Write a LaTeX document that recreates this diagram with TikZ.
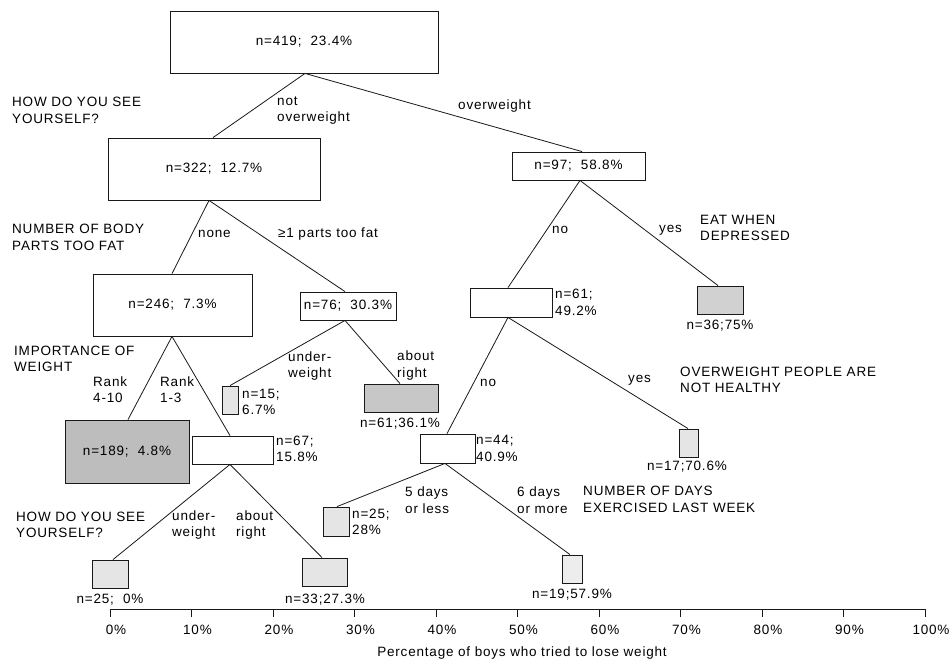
\documentclass[tikz,border=0pt]{standalone}
\usepackage{fontspec}
\setmainfont{Liberation Sans}[LetterSpace=6]
\newcommand\lbfont{\fontsize{13.5}{16.5}\selectfont}
\begin{document}
\begin{tikzpicture}[x=1pt,y=-1pt,
  every node/.style={font=\lbfont, text=black},
  box/.style={draw=black!90, line width=0.85pt, inner sep=0pt, anchor=center},
  shd/.style={fill=black!22},
  lshd/.style={fill=black!10},
  lbl/.style={inner sep=0pt, align=left, anchor=west},
  clbl/.style={inner sep=0pt, anchor=center},
  conn/.style={line width=0.8pt, draw=black!90},
  tick/.style={line width=0.8pt, draw=black!90}]
\useasboundingbox (0,0) rectangle (952,664);
\fill[white] (0,0) rectangle (952,664);
% boxes
\node[box, minimum width=268pt, minimum height=62pt] (root) at (304,42) {n=419;\ \ 23.4\%};
\node[box, minimum width=212pt, minimum height=62pt] (n322) at (214,169) {n=322;\ \ 12.7\%};
\node[box, minimum width=133pt, minimum height=28pt] (n97) at (578.5,166) {n=97;\ \ 58.8\%};
\node[box, minimum width=159pt, minimum height=62pt] (n246) at (172.5,305) {n=246;\ \ 7.3\%};
\node[box, minimum width=96pt, minimum height=28pt] (n76) at (348,306) {n=76;\ \ 30.3\%};
\node[box, shd, fill=black!26, minimum width=124pt, minimum height=63pt] (n189) at (127,451.5) {n=189;\ \ 4.8\%};
\node[box, minimum width=81pt, minimum height=28pt] (n67) at (232.5,450) {};
\node[box, lshd, minimum width=16pt, minimum height=28pt] (n15) at (230,400) {};
\node[box, shd, minimum width=74pt, minimum height=28pt] (n61b) at (401,398) {};
\node[box, minimum width=82pt, minimum height=29pt] (n61) at (511,302.5) {};
\node[box, shd, fill=black!18, minimum width=46pt, minimum height=28pt] (n36) at (720,300) {};
\node[box, minimum width=55pt, minimum height=29pt] (n44) at (447.5,448.5) {};
\node[box, lshd, minimum width=19pt, minimum height=28pt] (n17) at (688.5,443) {};
\node[box, lshd, minimum width=26pt, minimum height=29pt] (n25b) at (336,521.5) {};
\node[box, lshd, fill=black!7, minimum width=20pt, minimum height=28pt] (n19) at (572,569) {};
\node[box, lshd, minimum width=36pt, minimum height=28pt] (n25) at (110,574) {};
\node[box, lshd, minimum width=45pt, minimum height=28pt] (n33) at (324.5,572) {};
% connectors
\draw[conn] ([xshift=1pt]root.south) -- ([xshift=-1pt]n322.north);
\draw[conn] ([xshift=1pt]root.south) -- ([xshift=3.5pt]n97.north);
\draw[conn] ([xshift=-5pt]n322.south) -- ([xshift=-0.5pt]n246.north);
\draw[conn] ([xshift=-5pt]n322.south) -- ([xshift=-3pt]n76.north);
\draw[conn] ([xshift=-0.5pt]n246.south) -- ([xshift=1pt]n189.north);
\draw[conn] ([xshift=-0.5pt]n246.south) -- ([xshift=-2.5pt]n67.north);
\draw[conn] ([xshift=-3pt]n76.south) -- (n15.north);
\draw[conn] ([xshift=-3pt]n76.south) -- ([xshift=-1pt]n61b.north);
\draw[conn] ([xshift=1.5pt]n97.south) -- ([xshift=-3pt]n61.north);
\draw[conn] ([xshift=1.5pt]n97.south) -- ([xshift=-2pt]n36.north);
\draw[conn] ([xshift=-3pt]n61.south) -- ([xshift=-0.5pt]n44.north);
\draw[conn] ([xshift=-3pt]n61.south) -- ([xshift=-0.5pt]n17.north);
\draw[conn] ([xshift=-2.5pt]n44.south) -- ([xshift=1pt]n25b.north);
\draw[conn] ([xshift=-2.5pt]n44.south) -- ([xshift=-2pt]n19.north);
\draw[conn] ([xshift=-2.5pt]n67.south) -- ([xshift=3pt]n25.north);
\draw[conn] ([xshift=-2.5pt]n67.south) -- ([xshift=-2.5pt]n33.north);
% labels
\node[lbl] (q1) at (12,110.5) {HOW DO YOU SEE\\YOURSELF?};
\node[lbl] (l1) at (277,110.5) {not\\overweight};
\node[lbl] (l2) at (458,106) {overweight};
\node[lbl] (q2) at (12,237.5) {NUMBER OF BODY\\PARTS TOO FAT};
\node[lbl] (l3) at (198,234) {none};
\node[lbl] (l4) at (278,234) {≥1 parts too fat};
\node[lbl] (q3) at (14,359) {IMPORTANCE OF\\WEIGHT};
\node[lbl] (l5) at (93,389.5) {Rank\\4-10};
\node[lbl] (l6) at (160,389.5) {Rank\\1-3};
\node[lbl] (l7) at (288,366) {under-\\weight};
\node[lbl] (l8) at (397,365.5) {about\\right};
\node[lbl] (t15) at (242,402) {n=15;\\6.7\%};
\node[clbl] (t61b) at (400,424) {n=61;36.1\%};
\node[lbl] (t67) at (276,449) {n=67;\\15.8\%};
\node[lbl] (t61) at (555,302.5) {n=61;\\49.2\%};
\node[clbl] (t36) at (720,326) {n=36;75\%};
\node[lbl] (l9) at (552,230) {no};
\node[lbl] (l10) at (659,230) {yes};
\node[lbl] (q4) at (700,228) {EAT WHEN\\DEPRESSED};
\node[lbl] (l11) at (480,383) {no};
\node[lbl] (l12) at (628,380) {yes};
\node[lbl] (q5) at (680,380) {OVERWEIGHT PEOPLE ARE\\NOT HEALTHY};
\node[lbl] (t44) at (476,448.5) {n=44;\\40.9\%};
\node[clbl] (t17) at (687,467) {n=17;70.6\%};
\node[lbl] (l13) at (405,500) {5 days\\or less};
\node[lbl] (l14) at (517,500) {6 days\\or more};
\node[lbl] (q6) at (583,499.5) {NUMBER OF DAYS\\EXERCISED LAST WEEK};
\node[lbl] (t25b) at (352,522) {n=25;\\28\%};
\node[lbl] (q7) at (16,525) {HOW DO YOU SEE\\YOURSELF?};
\node[lbl] (l15) at (172,525) {under-\\weight};
\node[lbl] (l16) at (236,525) {about\\right};
\node[clbl] (t25) at (110,600) {n=25;\ \ 0\%};
\node[clbl] (t33) at (325,600) {n=33;27.3\%};
\node[clbl] (t19) at (572,595) {n=19;57.9\%};
% axis
\coordinate (ax0) at (110,609);
\coordinate (ax1) at (925,609);
\draw[tick] (ax0) -- (ax1);
\foreach \i in {0,...,10} {
  \coordinate (tk\i) at ({110+81.5*\i},609);
  \draw[tick] (tk\i) -- ++(0,8);
  \node[clbl] (tl\i) at ({116+81.5*\i},630) {\the\numexpr\i*10\relax\%};
}
\node[clbl] (axt) at (522,653) {Percentage of boys who tried to lose weight};
\end{tikzpicture}
\end{document}
